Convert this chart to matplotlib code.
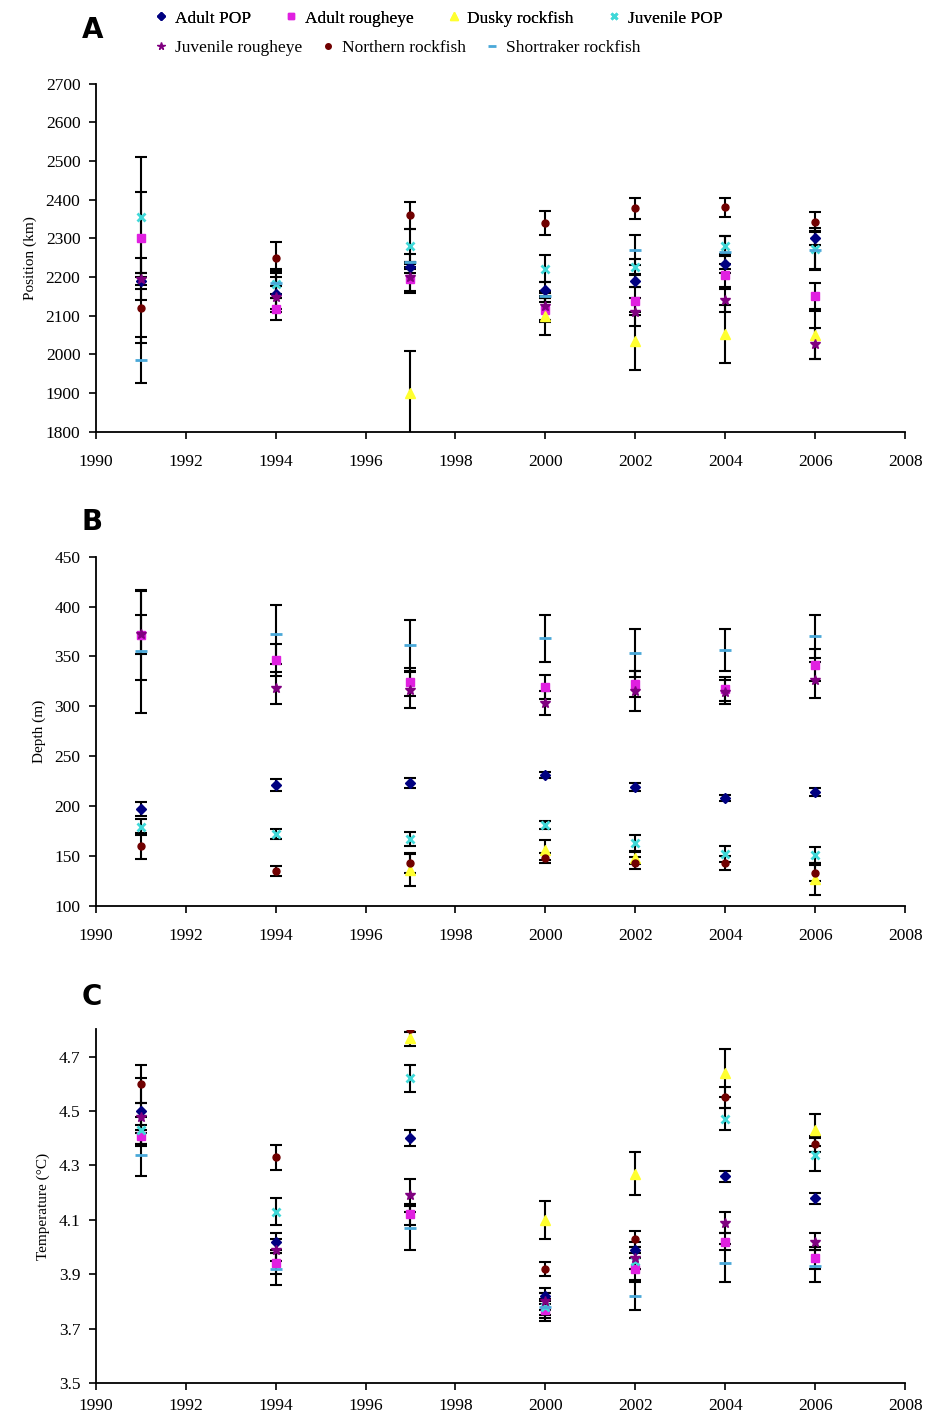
import numpy as np
import matplotlib
matplotlib.use("Agg")
import matplotlib.pyplot as plt

nan = np.nan

# survey years
years = [1991, 1994, 1997, 2000, 2002, 2004, 2006]

species = ["Adult POP", "Adult rougheye", "Dusky rockfish", "Juvenile POP",
           "Juvenile rougheye", "Northern rockfish", "Shortraker rockfish"]

# ---- A: position (km) ----
pos_adult_pop      = [2190, 2155, 2225, 2166, 2190, 2235, 2300]
pos_adult_pop_e    = [20, 45, 15, 20, 17, 25, 18]
pos_adult_rough    = [2300, 2118, 2195, 2115, 2138, 2205, 2151]
pos_adult_rough_e  = [120, 28, 30, 30, 35, 30, 34]
pos_dusky          = [nan, nan, 1900, 2100, 2035, 2053, 2051]
pos_dusky_e        = [nan, nan, 110, 50, 75, 75, 62]
pos_juv_pop        = [2355, 2183, 2280, 2222, 2226, 2280, 2273]
pos_juv_pop_e      = [155, 38, 45, 35, 20, 25, 55]
pos_juv_rough      = [2195, 2148, 2200, 2125, 2110, 2140, 2028]
pos_juv_rough_e    = [55, 30, 40, 35, 37, 30, 40]
pos_northern       = [2120, 2250, 2360, 2340, 2378, 2380, 2342]
pos_northern_e     = [90, 40, 35, 32, 27, 25, 26]
pos_shortraker     = [1985, 2185, 2240, 2150, 2270, 2264, 2270]
pos_shortraker_e   = [60, 30, 20, 15, 40, 42, 50]

# ---- B: depth (m) ----
dep_adult_pop      = [197, 221, 223, 231, 219, 208, 214]
dep_adult_pop_e    = [7, 6, 5, 3, 4, 3, 4]
dep_adult_rough    = [371, 346, 324, 319, 322, 317, 341]
dep_adult_rough_e  = [45, 16, 14, 12, 13, 12, 16]
dep_dusky          = [nan, nan, 136, 156, 148, nan, 127]
dep_dusky_e        = [nan, nan, 16, 10, 6, nan, 16]
dep_juv_pop        = [179, 172, 167, 181, 163, 152, 151]
dep_juv_pop_e      = [8, 5, 7, 4, 8, 8, 8]
dep_juv_rough      = [372, 318, 316, 303, 315, 314, 326]
dep_juv_rough_e    = [20, 16, 18, 12, 20, 12, 18]
dep_northern       = [160, 135, 143, 148, 143, 143, 133]
dep_northern_e     = [13, 5, 10, 5, 6, 7, 8]
dep_shortraker     = [355, 372, 361, 368, 353, 356, 370]
dep_shortraker_e   = [62, 30, 26, 24, 24, 21, 22]

# ---- C: temperature (deg C) ----
tmp_adult_pop      = [4.50, 4.02, 4.40, 3.82, 3.99, 4.26, 4.18]
tmp_adult_pop_e    = [0.12, 0.03, 0.03, 0.03, 0.03, 0.02, 0.02]
tmp_adult_rough    = [4.41, 3.94, 4.12, 3.77, 3.92, 4.02, 3.96]
tmp_adult_rough_e  = [0.04, 0.04, 0.04, 0.03, 0.04, 0.03, 0.04]
tmp_dusky          = [nan, nan, 4.77, 4.10, 4.27, 4.64, 4.43]
tmp_dusky_e        = [nan, nan, 0.03, 0.07, 0.08, 0.09, 0.06]
tmp_juv_pop        = [4.43, 4.13, 4.62, 3.78, 3.95, 4.47, 4.34]
tmp_juv_pop_e      = [0.05, 0.05, 0.05, 0.03, 0.03, 0.04, 0.06]
tmp_juv_rough      = [4.48, 3.99, 4.19, 3.80, 3.96, 4.09, 4.02]
tmp_juv_rough_e    = [0.05, 0.04, 0.06, 0.03, 0.04, 0.04, 0.03]
tmp_northern       = [4.60, 4.33, 4.80, 3.92, 4.03, 4.55, 4.38]
tmp_northern_e     = [0.07, 0.045, 0.01, 0.025, 0.03, 0.04, 0.03]
tmp_shortraker     = [4.34, 3.92, 4.07, 3.78, 3.82, 3.94, 3.93]
tmp_shortraker_e   = [0.08, 0.06, 0.08, 0.05, 0.05, 0.07, 0.06]

# excel-ish marker styles per species
colors  = ["#000080", "#E020E0", "#FFFF30", "#40D8D8", "#800080", "#700000", "#4AA8D8"]
markers = ["D", "s", "^", "x", "*", "o", "_"]
msizes  = [5, 6, 7, 6, 7, 5, 8]

plt.rcParams["font.family"] = ["Liberation Serif", "DejaVu Serif"]
plt.rcParams["font.size"] = 12

fig = plt.figure(figsize=(9.38, 14.2), dpi=100)

L, W = 0.102, 0.863
ax_a = fig.add_axes([L, 0.696, W, 0.245])
ax_b = fig.add_axes([L, 0.362, W, 0.246])
ax_c = fig.add_axes([L, 0.026, W, 0.249])


def draw_panel(ax, vals, errs, ylim, yticks, ylabel, fmt, xpad=11):
    for i in range(len(species)):
        ax.errorbar(years, vals[i], yerr=errs[i], fmt="none", ecolor="black",
                    elinewidth=1.5, capsize=4, capthick=1.5, zorder=2)
    for i in range(len(species)):
        ax.plot(years, vals[i], linestyle="none", marker=markers[i],
                markersize=msizes[i], color=colors[i], mec=colors[i],
                mew=2 if markers[i] in ("x", "_") else 1, zorder=3,
                label=species[i])
    ax.set_xlim(1990, 2008)
    ax.set_xticks(range(1990, 2009, 2))
    ax.set_ylim(*ylim)
    ax.set_yticks(yticks)
    ax.set_yticklabels([fmt % t for t in yticks])
    ax.spines["top"].set_visible(False)
    ax.spines["right"].set_visible(False)
    for s in ("left", "bottom"):
        ax.spines[s].set_linewidth(1.3)
    ax.tick_params(direction="out", length=5, width=1.2, labelsize=12.5, pad=6)
    ax.tick_params(axis="x", pad=xpad)
    ax.set_ylabel(ylabel, fontsize=11, labelpad=6)


draw_panel(ax_a,
           [pos_adult_pop, pos_adult_rough, pos_dusky, pos_juv_pop,
            pos_juv_rough, pos_northern, pos_shortraker],
           [pos_adult_pop_e, pos_adult_rough_e, pos_dusky_e, pos_juv_pop_e,
            pos_juv_rough_e, pos_northern_e, pos_shortraker_e],
           (1800, 2700), np.arange(1800, 2701, 100), "Position (km)", "%d")
draw_panel(ax_b,
           [dep_adult_pop, dep_adult_rough, dep_dusky, dep_juv_pop,
            dep_juv_rough, dep_northern, dep_shortraker],
           [dep_adult_pop_e, dep_adult_rough_e, dep_dusky_e, dep_juv_pop_e,
            dep_juv_rough_e, dep_northern_e, dep_shortraker_e],
           (100, 450), np.arange(100, 451, 50), "Depth (m)", "%d")
draw_panel(ax_c,
           [tmp_adult_pop, tmp_adult_rough, tmp_dusky, tmp_juv_pop,
            tmp_juv_rough, tmp_northern, tmp_shortraker],
           [tmp_adult_pop_e, tmp_adult_rough_e, tmp_dusky_e, tmp_juv_pop_e,
            tmp_juv_rough_e, tmp_northern_e, tmp_shortraker_e],
           (3.5, 4.8), np.round(np.arange(3.5, 4.71, 0.2), 1), "Temperature (°C)", "%.1f",
           xpad=6)

# panel letters
for letter, ypix in (("A", 30), ("B", 522), ("C", 997)):
    fig.text(0.087, 1 - ypix / 1420, letter, fontsize=20, fontweight="bold",
             family="DejaVu Sans", va="center", ha="left")

# legend in two rows like the excel one
handles, labels = ax_a.get_legend_handles_labels()
leg_kw = dict(frameon=False, loc="center left", fontsize=12.5, handlelength=0.8,
              handletextpad=0.4, borderpad=0, markerscale=0.8)
leg1 = fig.legend(handles[:4], labels[:4], ncol=4, columnspacing=1.9,
                  bbox_to_anchor=(0.155, 0.987), **leg_kw)
fig.add_artist(leg1)
fig.legend(handles[4:], labels[4:], ncol=3, columnspacing=1.1,
           bbox_to_anchor=(0.155, 0.966), **leg_kw)

fig.savefig("out.png", dpi=100)
